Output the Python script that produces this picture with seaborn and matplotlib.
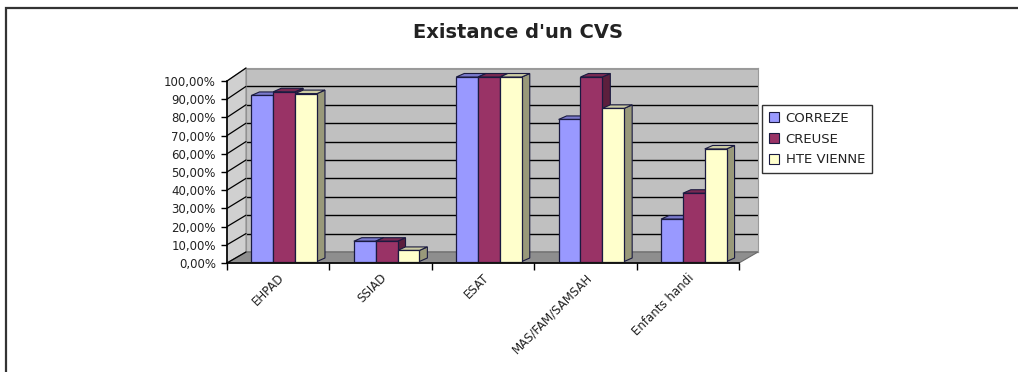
import matplotlib
matplotlib.use("Agg")
import matplotlib.pyplot as plt
from matplotlib.patches import Polygon, Rectangle, Patch
from matplotlib.ticker import FuncFormatter
import numpy as np
import pandas as pd
import seaborn as sns

# Data (share of structures with a CVS)
types = ["EHPAD", "SSIAD", "ESAT", "MAS/FAM/SAMSAH", "Enfants handi"]
depts = ["CORREZE", "CREUSE", "HTE VIENNE"]
correze = [0.90, 0.11, 1.00, 0.77, 0.23]
creuse = [0.92, 0.11, 1.00, 1.00, 0.37]
hte_vienne = [0.91, 0.06, 1.00, 0.83, 0.61]

colors = ["#9999FF", "#993366", "#FFFFCC"]

df = pd.DataFrame({
    "type": types * 3,
    "dept": [d for d in depts for _ in types],
    "taux": correze + creuse + hte_vienne,
})

sns.set_theme(style="white")
plt.rcParams["font.family"] = ["DejaVu Sans"]

W, H = 1018, 372
fig = plt.figure(figsize=(W / 100, H / 100), dpi=100)
fig.patch.set_facecolor("white")


def box(x0, y0, x1, y1):
    # pixel box (top-left origin) -> figure fraction rect
    return [x0 / W, 1 - y1 / H, (x1 - x0) / W, (y1 - y0) / H]


def fp(x, y):
    return (x / W, 1 - y / H)


# outer frame of the chart object
fig.add_artist(Rectangle(fp(6, 420), 2.0, (420 - 8) / H, transform=fig.transFigure,
                         fill=False, edgecolor="#333333", linewidth=1.6))

# back wall with gridlines
ax_wall = fig.add_axes(box(246, 68, 758, 252))
ax_wall.set_zorder(0)
ax_wall.set_facecolor("#C0C0C0")
ax_wall.set_xlim(0, 1)
ax_wall.set_ylim(0, 1)
ax_wall.set_yticks(np.arange(0, 1.01, 0.1))
ax_wall.set_xticks([])
ax_wall.yaxis.grid(True, color="black", linewidth=1.0)
ax_wall.tick_params(left=False, labelleft=False)
for s in ax_wall.spines.values():
    s.set_color("#9a9a9a")
    s.set_linewidth(0.8)

# left side wall and floor
side = Polygon([fp(227, 81), fp(246, 68), fp(246, 252), fp(227, 263)], closed=True,
               transform=fig.transFigure, facecolor="#D0D0D0", edgecolor="#8a8a8a",
               linewidth=0.8, zorder=1)
fig.add_artist(side)
for k in range(11):
    yf = 263 - 18.2 * k
    yb = 252 - 18.4 * k
    fig.add_artist(plt.Line2D([227 / W, 246 / W], [1 - yf / H, 1 - yb / H],
                              transform=fig.transFigure, color="black", linewidth=0.9,
                              zorder=1.5))
floor = Polygon([fp(227, 263), fp(739, 263), fp(758, 252), fp(246, 252)], closed=True,
                transform=fig.transFigure, facecolor="#8E8E8E", edgecolor="#6a6a6a",
                linewidth=0.8, zorder=1)
fig.add_artist(floor)

# bars (middle depth)
ax = fig.add_axes(box(233, 77, 745, 261.5))
ax.set_zorder(5)
ax.patch.set_alpha(0)
sns.barplot(data=df, x="type", y="taux", hue="dept", palette=colors, width=0.64,
            edgecolor="#1a1a40", linewidth=0.9, saturation=1, legend=False, ax=ax)
ax.set_xlim(-0.5, 4.5)
ax.set_ylim(0, 1)
ax.axis("off")

dx = 8 / 102.4
dy = 3.5 / 184.5
for p in list(ax.patches):
    x, w, h = p.get_x(), p.get_width(), p.get_height()
    fc = np.array(p.get_facecolor()[:3])
    p.set_zorder(3)
    ax.add_patch(Polygon([(x + w, 0), (x + w + dx, dy), (x + w + dx, h + dy), (x + w, h)],
                         closed=True, facecolor=fc * 0.6, edgecolor="#1a1a40",
                         linewidth=0.8, zorder=2, clip_on=False))
    ax.add_patch(Polygon([(x, h), (x + dx, h + dy), (x + w + dx, h + dy), (x + w, h)],
                         closed=True, facecolor=fc * 0.8, edgecolor="#1a1a40",
                         linewidth=0.8, zorder=2, clip_on=False))

# front axes carrying ticks and labels
ax_f = fig.add_axes(box(227, 81, 739, 263))
ax_f.set_zorder(6)
ax_f.patch.set_alpha(0)
ax_f.set_xlim(0, len(types))
ax_f.set_ylim(0, 1)
ax_f.set_yticks(np.arange(0, 1.01, 0.1))
ax_f.yaxis.set_major_formatter(FuncFormatter(lambda v, _: f"{v * 100:.2f}%".replace(".", ",")))
ax_f.set_xticks(np.arange(0, len(types) + 1))
ax_f.set_xticklabels([])
ax_f.set_xticks(np.arange(len(types)) + 0.5, minor=True)
ax_f.set_xticklabels(types, minor=True, rotation=45, ha="right", rotation_mode="anchor",
                     fontsize=8.5, color="#222222")
ax_f.tick_params(axis="x", which="minor", length=0, pad=6)
ax_f.tick_params(axis="x", which="major", length=5, width=1, color="black", direction="out",
                 bottom=True)
ax_f.tick_params(axis="y", length=4, width=1, color="black", direction="out", left=True,
                 labelsize=8.5, labelcolor="#222222", pad=4)
for name, s in ax_f.spines.items():
    if name in ("left", "bottom"):
        s.set_color("black")
        s.set_linewidth(1.2)
    else:
        s.set_visible(False)

# title
fig.text(518 / W, 1 - 33 / H, "Existance d'un CVS", ha="center", va="center",
         fontsize=14, fontweight="bold", color="#222222")

# legend
handles = [Patch(facecolor=c, edgecolor="#1a1a40", linewidth=0.8, label=d)
           for c, d in zip(colors, depts)]
leg = fig.legend(handles=handles, loc="upper left", bbox_to_anchor=(762 / W, 1 - 105 / H),
                 frameon=True, fancybox=False, shadow=False, fontsize=9.5,
                 handlelength=0.8, handleheight=0.8, handletextpad=0.5,
                 borderpad=0.5, labelspacing=0.6, borderaxespad=0)
leg.get_frame().set_edgecolor("black")
leg.get_frame().set_linewidth(1.0)
for t in leg.get_texts():
    t.set_color("#222222")

fig.savefig("out.png", dpi=100)
